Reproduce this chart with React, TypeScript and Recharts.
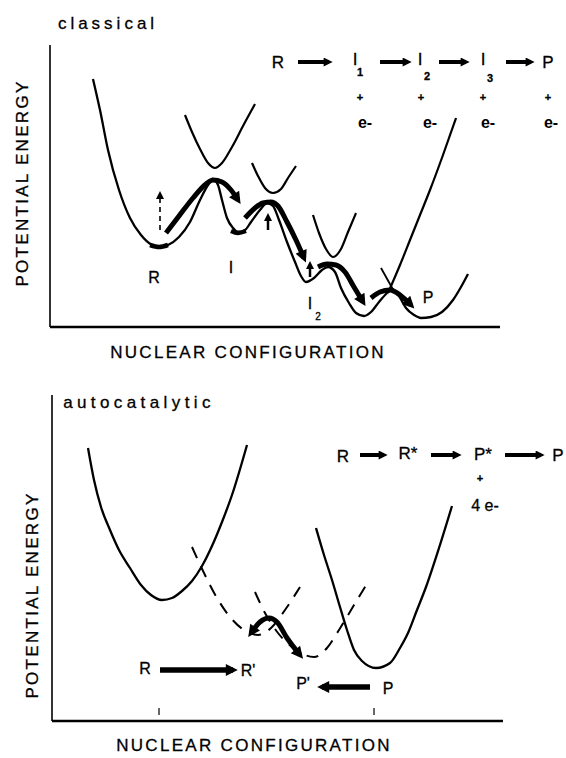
import { LineChart, Line, XAxis, YAxis, ReferenceLine, ReferenceDot } from "recharts";

type Pt = { x: number; y: number };

// ---- classical panel (x from the energy axis, y above the configuration axis)
const classicalGround: Pt[] = [
  { x: 43, y: 248 }, { x: 50, y: 217 }, { x: 58, y: 177 }, { x: 69, y: 137 }, { x: 80, y: 109 },
  { x: 91, y: 92 }, { x: 102, y: 82 }, { x: 109, y: 80 }, { x: 118, y: 82 }, { x: 129, y: 90 },
  { x: 140, y: 105 }, { x: 150, y: 127 }, { x: 158, y: 142 }, { x: 163, y: 148 }, { x: 168, y: 142 },
  { x: 172, y: 127 }, { x: 177, y: 109 }, { x: 183, y: 99 }, { x: 188, y: 95 }, { x: 195, y: 97 },
  { x: 201, y: 105 }, { x: 210, y: 117 }, { x: 217, y: 124 }, { x: 223, y: 121 }, { x: 229, y: 107 },
  { x: 237, y: 85 }, { x: 245, y: 65 }, { x: 251, y: 51 }, { x: 256, y: 45 }, { x: 264, y: 49 },
  { x: 272, y: 57 }, { x: 278, y: 60 }, { x: 285, y: 55 }, { x: 291, y: 39 }, { x: 299, y: 24 },
  { x: 306, y: 14 }, { x: 314, y: 11 }, { x: 321, y: 15 }, { x: 329, y: 25 }, { x: 337, y: 34 },
  { x: 342, y: 38 }, { x: 349, y: 31 }, { x: 356, y: 19 }, { x: 364, y: 12 }, { x: 371, y: 9 },
  { x: 381, y: 10 }, { x: 392, y: 15 }, { x: 403, y: 27 }, { x: 411, y: 40 }, { x: 418, y: 53 },
];
const classicalIon1: Pt[] = [
  { x: 135, y: 212 }, { x: 142, y: 195 }, { x: 150, y: 178 }, { x: 158, y: 164 }, { x: 165, y: 159 },
  { x: 172, y: 164 }, { x: 182, y: 180 }, { x: 193, y: 201 }, { x: 205, y: 223 },
];
const classicalIon2: Pt[] = [
  { x: 202, y: 164 }, { x: 208, y: 151 }, { x: 215, y: 139 }, { x: 223, y: 134 },
  { x: 231, y: 138 }, { x: 238, y: 149 }, { x: 246, y: 161 },
];
const classicalIon3: Pt[] = [
  { x: 263, y: 112 }, { x: 269, y: 94 }, { x: 276, y: 78 }, { x: 283, y: 70 },
  { x: 291, y: 78 }, { x: 298, y: 95 }, { x: 306, y: 114 },
];
const classicalProductArm: Pt[] = [
  { x: 338, y: 34 }, { x: 350, y: 62 }, { x: 360, y: 87 }, { x: 370, y: 112 },
  { x: 380, y: 137 }, { x: 393, y: 172 }, { x: 406, y: 209 },
];
const classicalCrossTick: Pt[] = [{ x: 331, y: 59 }, { x: 345, y: 34 }];
const classicalHops: Pt[][] = [
  [{ x: 116, y: 94 }, { x: 129, y: 111 }, { x: 143, y: 129 }, { x: 156, y: 143 }, { x: 163, y: 147 }, { x: 172, y: 145 }, { x: 181, y: 137 }, { x: 188, y: 127 }],
  [{ x: 195, y: 109 }, { x: 205, y: 119 }, { x: 213, y: 124 }, { x: 221, y: 125 }, { x: 228, y: 121 }, { x: 237, y: 105 }, { x: 246, y: 87 }, { x: 254, y: 69 }],
  [{ x: 268, y: 60 }, { x: 277, y: 63 }, { x: 286, y: 62 }, { x: 295, y: 55 }, { x: 304, y: 40 }, { x: 313, y: 25 }],
  [{ x: 321, y: 29 }, { x: 330, y: 35 }, { x: 340, y: 37 }, { x: 350, y: 32 }, { x: 361, y: 22 }],
];
const classicalExcite: Pt[] = [{ x: 110, y: 97 }, { x: 110, y: 132 }];
const classicalNudges: Pt[][] = [
  [{ x: 218, y: 97 }, { x: 218, y: 110 }],
  [{ x: 260, y: 50 }, { x: 260, y: 62 }],
];
const classicalWellBars: Pt[][] = [
  [{ x: 100, y: 82 }, { x: 109, y: 80 }, { x: 118, y: 82 }],
  [{ x: 181, y: 96 }, { x: 188, y: 94 }, { x: 196, y: 96 }],
];
const classicalWellLabels = [
  { text: "R", x: 104, y: 50 }, { text: "I", x: 181, y: 60 }, { text: "I", x: 260, y: 24 }, { text: "P", x: 378, y: 30 },
];
const classicalWellSubs = [{ text: "2", x: 268, y: 11 }];
const classicalScheme = [
  { text: "R", x: 228, y: 265 }, { text: "I", x: 305, y: 268 }, { text: "I", x: 370, y: 268 },
  { text: "I", x: 433, y: 268 }, { text: "P", x: 498, y: 265 },
];
const classicalSchemeSubs = [
  { text: "1", x: 310, y: 255 }, { text: "2", x: 377, y: 251 }, { text: "3", x: 440, y: 249 },
];
const classicalPlus = [{ x: 310, y: 230 }, { x: 371, y: 230 }, { x: 433, y: 230 }, { x: 498, y: 230 }];
const classicalElectrons = [{ x: 315, y: 205 }, { x: 380, y: 205 }, { x: 438, y: 205 }, { x: 501, y: 205 }];
const classicalSchemeArrows: Pt[][] = [
  [{ x: 248, y: 265 }, { x: 279, y: 265 }],
  [{ x: 330, y: 265 }, { x: 358, y: 265 }],
  [{ x: 389, y: 265 }, { x: 416, y: 265 }],
  [{ x: 456, y: 265 }, { x: 481, y: 265 }],
];

// ---- autocatalytic panel
const autoReactant: Pt[] = [
  { x: 36, y: 273 }, { x: 42, y: 241 }, { x: 49, y: 214 }, { x: 58, y: 191 }, { x: 67, y: 171 },
  { x: 78, y: 153 }, { x: 89, y: 136 }, { x: 99, y: 126 }, { x: 110, y: 121 }, { x: 120, y: 123 },
  { x: 130, y: 130 }, { x: 140, y: 140 }, { x: 150, y: 155 }, { x: 160, y: 175 }, { x: 170, y: 199 },
  { x: 180, y: 226 }, { x: 195, y: 276 },
];
const autoProduct: Pt[] = [
  { x: 264, y: 193 }, { x: 272, y: 166 }, { x: 280, y: 141 }, { x: 288, y: 114 }, { x: 295, y: 91 },
  { x: 302, y: 71 }, { x: 310, y: 60 }, { x: 324, y: 53 }, { x: 338, y: 58 }, { x: 348, y: 73 },
  { x: 356, y: 88 }, { x: 365, y: 111 }, { x: 374, y: 134 }, { x: 387, y: 173 }, { x: 400, y: 215 },
];
const autoReactantPrime: Pt[] = [
  { x: 140, y: 174 }, { x: 152, y: 148 }, { x: 165, y: 123 }, { x: 178, y: 104 }, { x: 192, y: 91 },
  { x: 206, y: 86 }, { x: 219, y: 93 }, { x: 233, y: 111 }, { x: 248, y: 134 },
];
const autoProductPrime: Pt[] = [
  { x: 203, y: 129 }, { x: 213, y: 108 }, { x: 226, y: 88 }, { x: 240, y: 74 }, { x: 262, y: 64 },
  { x: 275, y: 73 }, { x: 287, y: 91 }, { x: 302, y: 116 }, { x: 316, y: 139 },
];
const autoHop: Pt[] = [
  { x: 199, y: 88 }, { x: 208, y: 99 }, { x: 217, y: 103 }, { x: 225, y: 99 }, { x: 235, y: 83 }, { x: 248, y: 66 },
];
const autoForward: Pt[] = [{ x: 108, y: 51 }, { x: 181, y: 51 }];
const autoBackward: Pt[] = [{ x: 318, y: 34 }, { x: 270, y: 34 }];
const autoTicks = [107, 322];
const autoWellLabels = [
  { text: "R", x: 93, y: 53 }, { text: "R'", x: 196, y: 51 }, { text: "P'", x: 251, y: 38 }, { text: "P", x: 336, y: 33 },
];
const autoScheme = [
  { text: "R", x: 291, y: 265 }, { text: "R*", x: 356, y: 268 }, { text: "P*", x: 431, y: 267 }, { text: "P", x: 506, y: 266 },
];
const autoPlus = [{ x: 428, y: 243 }];
const autoElectrons = [{ text: "4 e-", x: 433, y: 216 }];
const autoSchemeArrows: Pt[][] = [
  [{ x: 308, y: 266 }, { x: 332, y: 266 }],
  [{ x: 379, y: 266 }, { x: 406, y: 266 }],
  [{ x: 453, y: 266 }, { x: 489, y: 266 }],
];

const FONT = "'Liberation Sans', Arial, sans-serif";

function label(key: string, value: string, x: number, y: number, size: number, extra: any = {}) {
  return (
    <ReferenceDot
      key={key}
      x={x}
      y={y}
      r={0}
      fill="none"
      stroke="none"
      ifOverflow="visible"
      label={{ value, position: "center", fontSize: size, fill: "#000", fontFamily: FONT, stroke: "#000", strokeWidth: 0.3, ...extra }}
    />
  );
}

function curve(key: string, data: Pt[], width: number, extra: any = {}) {
  return (
    <Line
      key={key}
      data={data}
      dataKey="y"
      type={data.length > 2 ? "monotone" : "linear"}
      stroke="#000"
      strokeWidth={width}
      dot={false}
      activeDot={false}
      isAnimationActive={false}
      {...extra}
    />
  );
}

function Markers() {
  return (
    <svg width={0} height={0} style={{ position: "absolute" }}>
      <defs>
        <marker id="head-big" viewBox="0 0 10 10" refX="6" refY="5" markerWidth="14" markerHeight="12" markerUnits="userSpaceOnUse" orient="auto-start-reverse">
          <path d="M0,0 L10,5 L0,10 Z" fill="#000" />
        </marker>
        <marker id="head-scheme" viewBox="0 0 10 10" refX="6" refY="5" markerWidth="13" markerHeight="9" markerUnits="userSpaceOnUse" orient="auto-start-reverse">
          <path d="M0,0 L10,5 L0,10 Z" fill="#000" />
        </marker>
        <marker id="head-small" viewBox="0 0 10 10" refX="5" refY="5" markerWidth="8" markerHeight="8" markerUnits="userSpaceOnUse" orient="auto-start-reverse">
          <path d="M0,0 L10,5 L0,10 Z" fill="#000" />
        </marker>
      </defs>
    </svg>
  );
}

function ClassicalPanel() {
  return (
    <LineChart width={566} height={380} margin={{ top: 0, right: 0, bottom: 0, left: 0 }}>
      <XAxis type="number" dataKey="x" domain={[-50, 516]} hide allowDataOverflow />
      <YAxis type="number" domain={[-53, 327]} hide allowDataOverflow />
      <ReferenceLine segment={[{ x: 0, y: 0 }, { x: 0, y: 282 }]} stroke="#000" strokeWidth={1.6} ifOverflow="visible" />
      <ReferenceLine segment={[{ x: 0, y: 0 }, { x: 450, y: 0 }]} stroke="#000" strokeWidth={2.6} ifOverflow="visible" />
      {curve("ground", classicalGround, 2.3)}
      {curve("ion1", classicalIon1, 2.2)}
      {curve("ion2", classicalIon2, 2.2)}
      {curve("ion3", classicalIon3, 2.2)}
      {curve("parm", classicalProductArm, 2.2)}
      {curve("tick", classicalCrossTick, 1.8)}
      {classicalWellBars.map((d, i) => curve(`bar${i}`, d, 4.5))}
      {classicalHops.map((d, i) => curve(`hop${i}`, d, 5, { markerEnd: "url(#head-big)" }))}
      {curve("excite", classicalExcite, 1.6, { strokeDasharray: "5 4", markerEnd: "url(#head-small)" })}
      {classicalNudges.map((d, i) => curve(`nudge${i}`, d, 2.5, { markerEnd: "url(#head-small)" }))}
      {classicalSchemeArrows.map((d, i) => curve(`sa${i}`, d, 4, { markerEnd: "url(#head-scheme)" }))}
      {label("title", "classical", 58, 304, 17, { letterSpacing: 4 })}
      {label("ylab", "POTENTIAL ENERGY", -28, 144, 17, { angle: -90, letterSpacing: 2.3 })}
      {label("xlab", "NUCLEAR CONFIGURATION", 198, -25, 17, { letterSpacing: 2.3 })}
      {classicalWellLabels.map((l, i) => label(`wl${i}`, l.text, l.x, l.y, 16))}
      {classicalWellSubs.map((l, i) => label(`ws${i}`, l.text, l.x, l.y, 10))}
      {classicalScheme.map((l, i) => label(`sc${i}`, l.text, l.x, l.y, 17))}
      {classicalSchemeSubs.map((l, i) => label(`ss${i}`, l.text, l.x, l.y, 11, { fontWeight: "bold" }))}
      {classicalPlus.map((p, i) => label(`pl${i}`, "+", p.x, p.y, 11, { fontWeight: "bold" }))}
      {classicalElectrons.map((p, i) => label(`el${i}`, "e-", p.x, p.y, 16, { fontWeight: "bold", strokeWidth: 0 }))}
    </LineChart>
  );
}

function AutocatalyticPanel() {
  return (
    <LineChart width={566} height={378} margin={{ top: 0, right: 0, bottom: 0, left: 0 }}>
      <XAxis type="number" dataKey="x" domain={[-52, 514]} hide allowDataOverflow />
      <YAxis type="number" domain={[-37, 341]} hide allowDataOverflow />
      <ReferenceLine segment={[{ x: 0, y: 0 }, { x: 0, y: 326 }]} stroke="#000" strokeWidth={1.6} ifOverflow="visible" />
      <ReferenceLine segment={[{ x: 0, y: 0 }, { x: 451, y: 0 }]} stroke="#000" strokeWidth={2.4} ifOverflow="visible" />
      {autoTicks.map((t) => (
        <ReferenceLine key={`t${t}`} segment={[{ x: t, y: 6 }, { x: t, y: 13 }]} stroke="#000" strokeWidth={1.2} ifOverflow="visible" />
      ))}
      {curve("react", autoReactant, 2.3)}
      {curve("prod", autoProduct, 2.3)}
      {curve("reactP", autoReactantPrime, 2, { strokeDasharray: "12 9" })}
      {curve("prodP", autoProductPrime, 2, { strokeDasharray: "12 9" })}
      {curve("hop", autoHop, 5, { markerStart: "url(#head-big)", markerEnd: "url(#head-big)" })}
      {curve("fwd", autoForward, 5.5, { markerEnd: "url(#head-big)" })}
      {curve("bwd", autoBackward, 5.5, { markerEnd: "url(#head-big)" })}
      {autoSchemeArrows.map((d, i) => curve(`sa${i}`, d, 4, { markerEnd: "url(#head-scheme)" }))}
      {label("title", "autocatalytic", 87, 319, 17, { letterSpacing: 4.4 })}
      {label("ylab", "POTENTIAL ENERGY", -20, 126, 17, { angle: -90, letterSpacing: 2.3 })}
      {label("xlab", "NUCLEAR CONFIGURATION", 202, -24, 17, { letterSpacing: 2.3 })}
      {autoWellLabels.map((l, i) => label(`wl${i}`, l.text, l.x, l.y, 16))}
      {autoScheme.map((l, i) => label(`sc${i}`, l.text, l.x, l.y, 17))}
      {autoPlus.map((p, i) => label(`pl${i}`, "+", p.x, p.y, 11, { fontWeight: "bold" }))}
      {autoElectrons.map((p, i) => label(`el${i}`, p.text, p.x, p.y, 16))}
    </LineChart>
  );
}

export default function App() {
  return (
    <div style={{ position: "absolute", left: 0, top: 0, width: 566, height: 758, background: "#fff" }}>
      <Markers />
      <ClassicalPanel />
      <AutocatalyticPanel />
    </div>
  );
}
